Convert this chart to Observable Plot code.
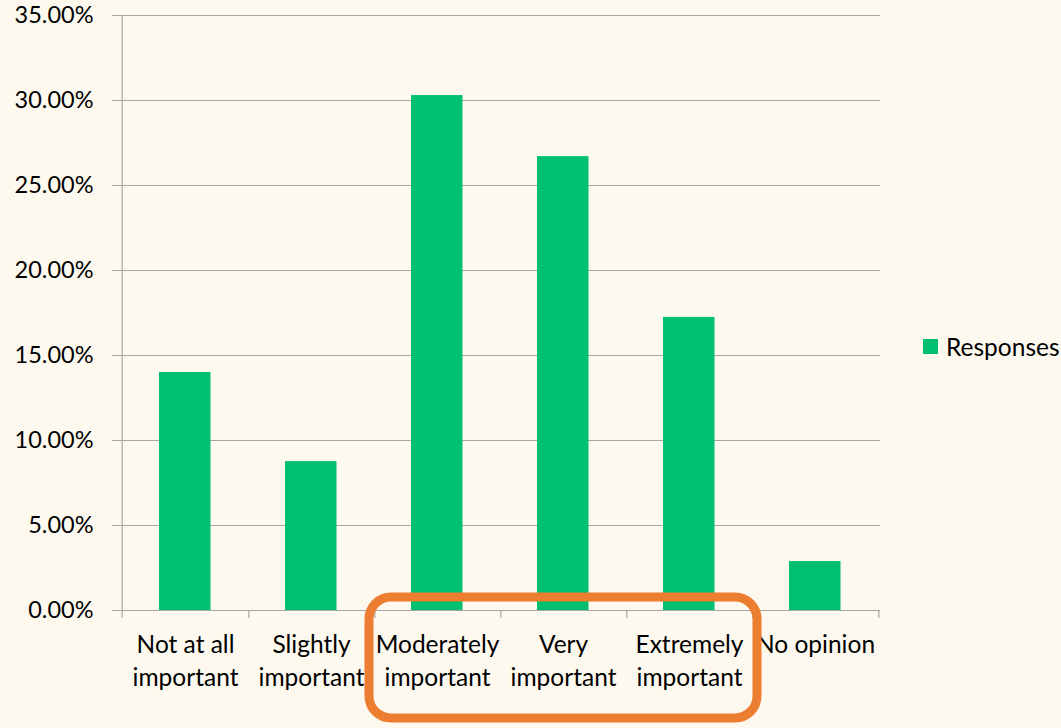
<!DOCTYPE html>
<html>
<head>
<meta charset="utf-8">
<script src="https://cdn.jsdelivr.net/npm/d3@7"></script>
<script src="https://cdn.jsdelivr.net/npm/@observablehq/plot@0.6"></script>
<style>
  html, body { margin: 0; padding: 0; background: #FEF9EF; }
  #wrap { position: relative; width: 1061px; height: 728px; font-family: Lato, "DejaVu Sans", sans-serif; }
  #legend { position: absolute; left: 923px; top: 332px; display: flex; align-items: center; font-size: 24.5px; color: #000; }
  #legend .sw { width: 15px; height: 15px; background: #00BF6F; margin-right: 8px; }
</style>
</head>
<body>
<div id="wrap"><div id="legend"><div class="sw"></div><span>Responses</span></div></div>
<script>
const categories = ["Not at all important", "Slightly important", "Moderately important", "Very important", "Extremely important", "No opinion"];
const tickLabels = ["Not at all\nimportant", "Slightly\nimportant", "Moderately\nimportant", "Very\nimportant", "Extremely\nimportant", "No opinion"];
const responses = [14.0, 8.76, 30.29, 26.7, 17.24, 2.88];
const yTicks = [0, 5, 10, 15, 20, 25, 30, 35];
const highlightFrom = "Moderately important";
const highlightTo = "Extremely important";

const data = categories.map((c, i) => ({category: c, value: responses[i]}));
const labelOf = new Map(categories.map((c, i) => [c, tickLabels[i]]));

const W = 1061, H = 728, mL = 120, mR = 181, mT = 15, mB = 118;
const bw = (W - mL - mR) / categories.length;
const grid = "#A6A6A6";

const chart = Plot.plot({
  width: W, height: H,
  marginLeft: mL, marginRight: mR, marginTop: mT, marginBottom: mB,
  style: {background: "transparent", fontFamily: "Lato, 'DejaVu Sans', sans-serif", color: "#000"},
  x: {domain: categories, padding: 0},
  y: {domain: [0, 35]},
  marks: [
    Plot.ruleY(yTicks, {stroke: grid, strokeWidth: 1.2, insetLeft: -8}),
    Plot.barY(data, {x: "category", y: "value", fill: "#00BF6F", insetLeft: 37, insetRight: 37.5}),
    // y axis line
    Plot.ruleX([categories[0]], {dx: -bw / 2, stroke: grid, strokeWidth: 1.2, insetBottom: -8}),
    // x tick marks at category boundaries
    Plot.ruleX(categories, {dx: bw / 2, y1: 0, y2: 0, stroke: grid, strokeWidth: 1.2, insetBottom: -8}),
    Plot.axisY(yTicks, {tickSize: 0, tickPadding: 27, fontSize: 23.5, label: null, tickFormat: d => d.toFixed(2) + "%"}),
    Plot.axisX({tickSize: 0, tickPadding: 19, fontSize: 24.5, lineHeight: 1.36, label: null, tickFormat: d => labelOf.get(d)})
  ]
});

const wrap = document.getElementById("wrap");
wrap.insertBefore(chart, wrap.firstChild);

// highlight box around selected categories
const xs = chart.scale("x"), ys = chart.scale("y");
const x0 = xs.apply(highlightFrom) - 5;
const x1 = xs.apply(highlightTo) + xs.bandwidth + 5;
const y0 = ys.apply(0) - 13;
const y1 = y0 + 121;
d3.select(chart).append("rect")
  .attr("x", x0).attr("y", y0)
  .attr("width", x1 - x0).attr("height", y1 - y0)
  .attr("rx", 22).attr("ry", 22)
  .attr("fill", "none").attr("stroke", "#ED7D31").attr("stroke-width", 9);
</script>
</body>
</html>
